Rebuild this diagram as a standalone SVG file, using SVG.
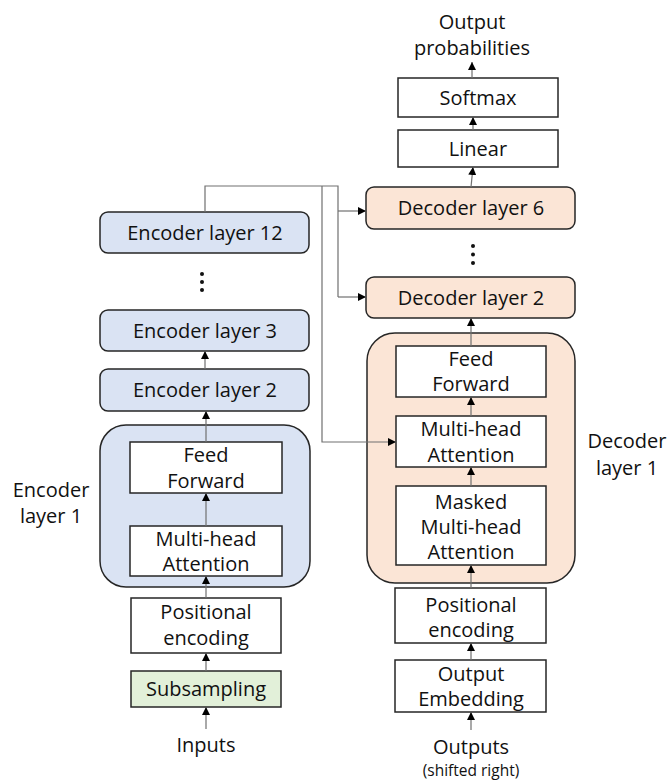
<svg xmlns="http://www.w3.org/2000/svg" width="669" height="780" viewBox="0 0 669 780">
  <style>
    text { font-family: "Open Sans", "Noto Sans", "DejaVu Sans", sans-serif; font-size: 20px; fill: #111; text-anchor: middle; }
    .small { font-size: 15.5px; }
    .box { fill: #fff; stroke: #262626; stroke-width: 1.5; }
    .enc { fill: #dae3f3; stroke: #262626; stroke-width: 1.5; }
    .dec { fill: #fbe5d6; stroke: #262626; stroke-width: 1.5; }
    .sub { fill: #e2f0d9; stroke: #262626; stroke-width: 1.5; }
    .wire { fill: none; stroke: #707070; stroke-width: 1.2; }
    .arrow { fill: none; stroke: #707070; stroke-width: 1.2; marker-end: url(#head); }
    .dot { fill: #111; }
  </style>
  <defs>
    <marker id="head" viewBox="0 0 10 10" refX="10" refY="5" markerWidth="8" markerHeight="8" markerUnits="userSpaceOnUse" orient="auto">
      <path d="M0,0 L10,5 L0,10 z" fill="#000"/>
    </marker>
  </defs>

  <!-- Encoder stack -->
  <g id="encoder-layer-1">
    <rect class="enc" x="100" y="425" width="210" height="162" rx="26"/>
    <text x="51" y="497">Encoder</text>
    <text x="51" y="523">layer 1</text>
  </g>
  <g id="enc-feed-forward">
    <rect class="box" x="130" y="442" width="152" height="51"/>
    <text x="206" y="462">Feed</text>
    <text x="206" y="488">Forward</text>
  </g>
  <g id="enc-attention">
    <rect class="box" x="130" y="526" width="152" height="50"/>
    <text x="206" y="546">Multi-head</text>
    <text x="206" y="571">Attention</text>
  </g>
  <g id="enc-positional">
    <rect class="box" x="131" y="598" width="150" height="55"/>
    <text x="206" y="619">Positional</text>
    <text x="206" y="645">encoding</text>
  </g>
  <g id="subsampling">
    <rect class="sub" x="131" y="671" width="150" height="36"/>
    <text x="206" y="696">Subsampling</text>
  </g>
  <g id="inputs">
    <text x="206" y="752">Inputs</text>
  </g>
  <g id="encoder-layer-2">
    <rect class="enc" x="100" y="369" width="209" height="42" rx="8"/>
    <text x="205" y="397">Encoder layer 2</text>
  </g>
  <g id="encoder-layer-3">
    <rect class="enc" x="100" y="310" width="209" height="41" rx="8"/>
    <text x="205" y="337.5">Encoder layer 3</text>
  </g>
  <g id="encoder-ellipsis">
    <circle class="dot" cx="202" cy="274" r="2"/>
    <circle class="dot" cx="202" cy="282" r="2"/>
    <circle class="dot" cx="202" cy="290" r="2"/>
  </g>
  <g id="encoder-layer-12">
    <rect class="enc" x="100" y="212" width="209" height="41" rx="8"/>
    <text x="205" y="239.5">Encoder layer 12</text>
  </g>

  <!-- Decoder stack -->
  <g id="decoder-layer-1">
    <rect class="dec" x="367" y="333" width="208" height="250" rx="28"/>
    <text x="627" y="448">Decoder</text>
    <text x="627" y="475">layer 1</text>
  </g>
  <g id="dec-feed-forward">
    <rect class="box" x="396" y="346" width="150" height="51"/>
    <text x="471" y="366">Feed</text>
    <text x="471" y="391">Forward</text>
  </g>
  <g id="dec-cross-attention">
    <rect class="box" x="396" y="416" width="150" height="51"/>
    <text x="471" y="435.5">Multi-head</text>
    <text x="471" y="461.5">Attention</text>
  </g>
  <g id="dec-masked-attention">
    <rect class="box" x="396" y="486" width="150" height="79"/>
    <text x="471" y="508.5">Masked</text>
    <text x="471" y="533.5">Multi-head</text>
    <text x="471" y="558.5">Attention</text>
  </g>
  <g id="dec-positional">
    <rect class="box" x="395" y="588" width="151" height="55"/>
    <text x="471" y="611.5">Positional</text>
    <text x="471" y="636.5">encoding</text>
  </g>
  <g id="output-embedding">
    <rect class="box" x="395" y="660" width="151" height="52"/>
    <text x="471" y="680.5">Output</text>
    <text x="471" y="706">Embedding</text>
  </g>
  <g id="outputs">
    <text x="471" y="754">Outputs</text>
    <text class="small" x="471" y="776">(shifted right)</text>
  </g>
  <g id="decoder-layer-2">
    <rect class="dec" x="366" y="277" width="209" height="41" rx="8"/>
    <text x="471" y="304.5">Decoder layer 2</text>
  </g>
  <g id="decoder-ellipsis">
    <circle class="dot" cx="473" cy="246" r="2"/>
    <circle class="dot" cx="473" cy="254.5" r="2"/>
    <circle class="dot" cx="473" cy="263" r="2"/>
  </g>
  <g id="decoder-layer-6">
    <rect class="dec" x="366" y="187" width="209" height="42" rx="8"/>
    <text x="471" y="215">Decoder layer 6</text>
  </g>
  <g id="linear">
    <rect class="box" x="398" y="130" width="160" height="37"/>
    <text x="478" y="155.5">Linear</text>
  </g>
  <g id="softmax">
    <rect class="box" x="398" y="78" width="160" height="39"/>
    <text x="478" y="104.5">Softmax</text>
  </g>
  <g id="output-probabilities">
    <text x="472" y="29">Output</text>
    <text x="472" y="55">probabilities</text>
  </g>

  <!-- Connectors -->
  <g id="connectors">
    <!-- encoder flow -->
    <line class="arrow" x1="206" y1="729" x2="206" y2="707"/>
    <line class="arrow" x1="206" y1="671" x2="206" y2="653"/>
    <line class="arrow" x1="206" y1="598" x2="206" y2="576"/>
    <line class="arrow" x1="206" y1="526" x2="206" y2="493"/>
    <line class="arrow" x1="206" y1="442" x2="206" y2="411"/>
    <line class="arrow" x1="205" y1="369" x2="205" y2="351"/>
    <!-- encoder output to decoder -->
    <polyline class="wire" points="205,212 205,186 338,186 338,297"/>
    <line class="arrow" x1="338" y1="211" x2="366" y2="211"/>
    <line class="arrow" x1="338" y1="297" x2="366" y2="297"/>
    <polyline class="arrow" points="322,186 322,442 396,442"/>
    <!-- decoder flow -->
    <line class="arrow" x1="471" y1="730" x2="471" y2="712"/>
    <line class="arrow" x1="471" y1="660" x2="471" y2="643"/>
    <line class="arrow" x1="471" y1="588" x2="471" y2="565"/>
    <line class="arrow" x1="471" y1="486" x2="471" y2="467"/>
    <line class="arrow" x1="471" y1="416" x2="471" y2="397"/>
    <line class="arrow" x1="471" y1="346" x2="471" y2="318"/>
    <line class="arrow" x1="471" y1="187" x2="473" y2="167"/>
    <line class="arrow" x1="473" y1="130" x2="473" y2="117"/>
    <line class="arrow" x1="472" y1="78" x2="472" y2="62"/>
  </g>
</svg>
